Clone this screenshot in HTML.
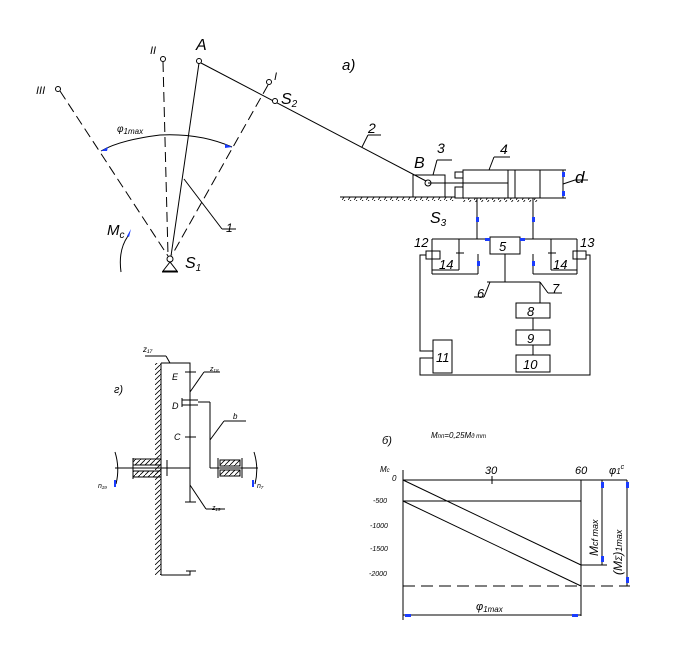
<!DOCTYPE html>
<html><head><meta charset="utf-8"><style>
html,body{margin:0;padding:0;background:#fff;}
svg{display:block;}
text{font-family:"Liberation Sans",sans-serif;font-style:italic;fill:#000;}
</style></head><body>
<svg width="677" height="649" viewBox="0 0 677 649" xmlns="http://www.w3.org/2000/svg">
<defs>
<pattern id="h" width="5" height="5" patternUnits="userSpaceOnUse"><path d="M0 5 L5 0" stroke="#000" stroke-width="0.8"/></pattern>
<pattern id="g" width="6" height="4" patternUnits="userSpaceOnUse"><path d="M0 4 L3 0" stroke="#000" stroke-width="0.8"/></pattern>
</defs>
<rect x="340" y="197" width="115" height="4" fill="url(#g)"/>
<rect x="463" y="198" width="77" height="4" fill="url(#g)"/>
<g stroke="#000" stroke-width="1" fill="none">
<!-- mechanism -->
<line x1="60" y1="91" x2="168" y2="256" stroke-dasharray="10,5"/>
<line x1="163" y1="62" x2="168" y2="255" stroke-dasharray="10,5"/>
<line x1="268" y1="85" x2="172" y2="255" stroke-dasharray="10,5"/>
<line x1="199" y1="63" x2="171" y2="256"/>
<line x1="201" y1="63" x2="426" y2="181"/>
<line x1="184" y1="179" x2="222" y2="229"/><line x1="222" y1="229" x2="236" y2="229"/>
<path d="M101 151 Q120 140 160 135 Q200 133 232 147"/>
<path d="M128 236 Q118 250 121 272"/>
<circle cx="58" cy="89" r="2.5" fill="#fff"/>
<circle cx="163" cy="59" r="2.5" fill="#fff"/>
<circle cx="199" cy="61" r="2.5" fill="#fff"/>
<circle cx="269" cy="82" r="2.5" fill="#fff"/>
<circle cx="275" cy="101" r="2.5" fill="#fff"/>
<circle cx="170" cy="259" r="3" fill="#fff"/>
<path d="M170 262 L163 271 L177 271 Z"/>
<line x1="162" y1="272" x2="178" y2="272"/>
<line x1="362" y1="147" x2="368" y2="135"/><line x1="368" y1="135" x2="381" y2="135"/>
<line x1="340" y1="197" x2="455" y2="197"/>
<rect x="413" y="175" width="32" height="22"/>
<circle cx="428" cy="183" r="3"/>
<line x1="428" y1="183" x2="508" y2="183"/>
<line x1="433" y1="175" x2="437" y2="160"/><line x1="437" y1="160" x2="452" y2="160"/>
<rect x="463" y="170" width="77" height="28"/>
<rect x="455" y="172" width="8" height="6"/>
<rect x="455" y="187" width="8" height="11"/>
<line x1="508" y1="170" x2="508" y2="198"/><line x1="515" y1="170" x2="515" y2="198"/>
<line x1="489" y1="170" x2="494" y2="157"/><line x1="494" y1="157" x2="510" y2="157"/>
<line x1="455" y1="198" x2="540" y2="198"/>
<line x1="563" y1="170" x2="563" y2="198"/>
<line x1="540" y1="170" x2="566" y2="170"/><line x1="540" y1="198" x2="566" y2="198"/>
<line x1="563" y1="184" x2="575" y2="180"/><line x1="575" y1="180" x2="588" y2="180"/>
<line x1="477" y1="198" x2="477" y2="239"/><line x1="533" y1="198" x2="533" y2="239"/>
<rect x="490" y="237" width="30" height="17"/>
<line x1="432" y1="239" x2="490" y2="239"/><line x1="520" y1="239" x2="577" y2="239"/>
<line x1="432" y1="239" x2="432" y2="274"/><line x1="577" y1="239" x2="577" y2="274"/>
<rect x="426" y="251" width="14" height="8"/><rect x="573" y="251" width="13" height="8"/>
<line x1="459" y1="239" x2="459" y2="253"/><line x1="456" y1="253" x2="464" y2="253"/>
<line x1="551" y1="239" x2="551" y2="253"/><line x1="548" y1="253" x2="556" y2="253"/>
<line x1="432" y1="270" x2="459" y2="270"/><line x1="459" y1="253" x2="459" y2="270"/>
<line x1="551" y1="253" x2="551" y2="270"/><line x1="551" y1="270" x2="577" y2="270"/>
<line x1="432" y1="274" x2="478" y2="274"/><line x1="478" y1="254" x2="478" y2="274"/>
<line x1="533" y1="254" x2="533" y2="274"/><line x1="533" y1="274" x2="577" y2="274"/>
<line x1="505" y1="254" x2="505" y2="282"/>
<line x1="487" y1="282" x2="540" y2="282"/>
<line x1="540" y1="282" x2="540" y2="303"/>
<line x1="490" y1="282" x2="484" y2="297"/><line x1="484" y1="297" x2="474" y2="297"/>
<line x1="540" y1="282" x2="548" y2="293"/><line x1="548" y1="293" x2="562" y2="293"/>
<rect x="516" y="303" width="34" height="15"/>
<rect x="516" y="330" width="34" height="15"/>
<rect x="516" y="355" width="34" height="17"/>
<line x1="533" y1="318" x2="533" y2="330"/><line x1="533" y1="345" x2="533" y2="355"/>
<rect x="433" y="340" width="19" height="33"/>
<polyline points="426,255 420,255 420,351 433,351"/>
<polyline points="433,358 420,358 420,375 590,375 590,255 586,255"/>
<line x1="161" y1="363" x2="161" y2="575"/>
<rect x="155" y="363" width="6" height="212" fill="url(#h)" stroke="none"/>
<polyline points="161,363 190,363 190,372"/>
<polyline points="161,575 190,575 190,571"/>
<line x1="190" y1="372" x2="190" y2="502"/>
<line x1="185" y1="372" x2="196" y2="372"/><line x1="185" y1="502" x2="196" y2="502"/>
<line x1="185" y1="437" x2="196" y2="437"/>
<line x1="186" y1="571" x2="196" y2="571"/>
<line x1="182" y1="400" x2="198" y2="400"/><line x1="182" y1="405" x2="198" y2="405"/>
<line x1="182" y1="398" x2="182" y2="407"/>
<line x1="198" y1="402" x2="210" y2="402"/><line x1="210" y1="402" x2="210" y2="468"/>
<line x1="115" y1="468" x2="190" y2="468"/>
<line x1="210" y1="468" x2="258" y2="468"/>
<rect x="133" y="459" width="28" height="6" fill="url(#h)"/>
<rect x="133" y="471" width="28" height="6" fill="url(#h)"/>
<line x1="133" y1="458" x2="133" y2="479"/><line x1="167" y1="460" x2="167" y2="476"/>
<rect x="220" y="460" width="20" height="6" fill="url(#h)"/>
<rect x="220" y="470" width="20" height="6" fill="url(#h)"/>
<line x1="218" y1="458" x2="218" y2="478"/><line x1="242" y1="458" x2="242" y2="478"/>
<path d="M115 452 Q120 468 116 484"/>
<path d="M254 452 Q259 468 255 484"/>
<line x1="170" y1="363" x2="166" y2="356"/><line x1="166" y1="356" x2="145" y2="356"/>
<line x1="190" y1="392" x2="204" y2="372"/><line x1="204" y1="372" x2="220" y2="372"/>
<line x1="210" y1="440" x2="224" y2="421"/><line x1="224" y1="421" x2="246" y2="421"/>
<line x1="190" y1="485" x2="206" y2="509"/><line x1="206" y1="509" x2="225" y2="509"/>
<line x1="403" y1="470" x2="403" y2="620"/>
<line x1="403" y1="480" x2="627" y2="480"/>
<line x1="403" y1="501" x2="581" y2="501"/>
<line x1="403" y1="480" x2="581" y2="565"/>
<line x1="403" y1="501" x2="581" y2="586"/>
<line x1="581" y1="480" x2="581" y2="616"/>
<line x1="581" y1="565" x2="607" y2="565"/>
<line x1="403" y1="586" x2="630" y2="586" stroke-dasharray="12,6"/>
<line x1="492" y1="476" x2="492" y2="484"/>
<line x1="602" y1="480" x2="602" y2="565"/>
<line x1="627" y1="480" x2="627" y2="586"/>
<line x1="403" y1="615" x2="581" y2="615"/>
</g>
<g fill="#1a3cff">
<path d="M101 151 l7 -4 l-1 4z"/><path d="M232 147 l-7 -3 l0 4z"/>
<path d="M131 229 l-4 7 l2 1z"/>
<rect x="476" y="217" width="3" height="5"/><rect x="532" y="217" width="3" height="5"/>
<rect x="485" y="238" width="5" height="3"/><rect x="520" y="238" width="5" height="3"/>
<rect x="477" y="261" width="3" height="5"/><rect x="532" y="261" width="3" height="5"/>
<rect x="562" y="172" width="3" height="5"/><rect x="562" y="191" width="3" height="5"/>
<rect x="114" y="480" width="2" height="7"/><rect x="252" y="480" width="2" height="7"/>
<rect x="601" y="482" width="3" height="6"/><rect x="601" y="556" width="3" height="6"/>
<rect x="626" y="482" width="3" height="6"/><rect x="626" y="577" width="3" height="6"/>
<rect x="405" y="614" width="6" height="3"/><rect x="572" y="614" width="6" height="3"/>
</g>
<g font-size="14">
<text x="196" y="50" font-size="16">A</text>
<text x="150" y="54" font-size="11">II</text>
<text x="36" y="94" font-size="11">III</text>
<text x="274" y="80" font-size="11">I</text>
<text x="281" y="104" font-size="16">S<tspan font-size="10" dy="3">2</tspan></text>
<text x="342" y="70" font-size="15">a)</text>
<text x="368" y="133">2</text>
<text x="414" y="168" font-size="16">B</text>
<text x="437" y="153">3</text>
<text x="500" y="154">4</text>
<text x="575" y="183" font-size="17">d</text>
<text x="430" y="223" font-size="16">S<tspan font-size="10" dy="3">3</tspan></text>
<text x="414" y="247" font-size="13">12</text>
<text x="580" y="247" font-size="13">13</text>
<text x="499" y="251" font-size="13">5</text>
<text x="439" y="269" font-size="13">14</text>
<text x="553" y="269" font-size="13">14</text>
<text x="477" y="298" font-size="13">6</text>
<text x="552" y="293" font-size="13">7</text>
<text x="527" y="316" font-size="13">8</text>
<text x="527" y="343" font-size="13">9</text>
<text x="523" y="369" font-size="13">10</text>
<text x="436" y="362" font-size="13">11</text>
<text x="117" y="132" font-size="10">φ<tspan font-size="8" dy="2">1max</tspan></text>
<text x="107" y="235" font-size="15">M<tspan font-size="10" dy="3">c</tspan></text>
<text x="185" y="268" font-size="16">S<tspan font-size="10" dy="3">1</tspan></text>
<text x="226" y="232" font-size="12">1</text>
<text x="143" y="352" font-size="8">z₁₇</text>
<text x="114" y="393" font-size="11">г)</text>
<text x="172" y="380" font-size="9">E</text>
<text x="210" y="371" font-size="7">z₁₈</text>
<text x="172" y="409" font-size="9">D</text>
<text x="233" y="419" font-size="8">b</text>
<text x="174" y="440" font-size="9">C</text>
<text x="98" y="488" font-size="7">n₁₉</text>
<text x="257" y="488" font-size="7">n₇</text>
<text x="212" y="510" font-size="7">z₁₉</text>
<text x="382" y="444" font-size="11">б)</text>
<text x="431" y="438" font-size="8">M<tspan font-size="6">пп</tspan>=0,25M<tspan font-size="6">д тт</tspan></text>
<text x="380" y="472" font-size="8">M<tspan font-size="6">c</tspan></text>
<text x="392" y="481" font-size="8">0</text>
<text x="373" y="503" font-size="7">-500</text>
<text x="370" y="528" font-size="7">-1000</text>
<text x="370" y="551" font-size="7">-1500</text>
<text x="369" y="576" font-size="7">-2000</text>
<text x="485" y="474" font-size="11">30</text>
<text x="575" y="474" font-size="11">60</text>
<text x="609" y="474" font-size="11">φ<tspan font-size="8">1</tspan><tspan font-size="7" dy="-5">c</tspan></text>
<text x="476" y="610" font-size="11">φ<tspan font-size="8" dy="2">1max</tspan></text>
<text transform="translate(598,556) rotate(-90)" font-size="12">M<tspan font-size="9">cf max</tspan></text>
<text transform="translate(622,575) rotate(-90)" font-size="12">(M<tspan font-size="9">Σ</tspan>)<tspan font-size="9">1max</tspan></text>
</g>
</svg>
</body></html>
